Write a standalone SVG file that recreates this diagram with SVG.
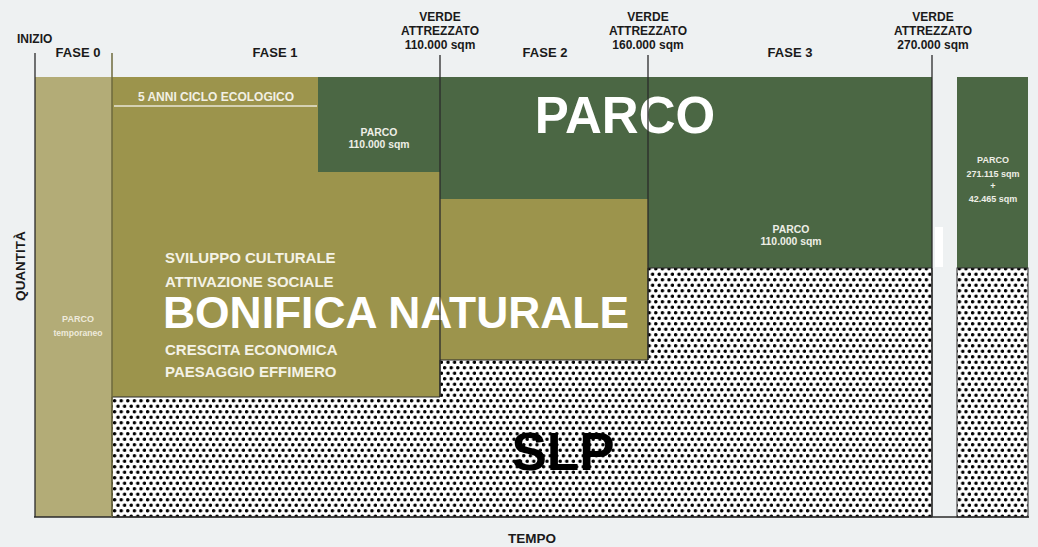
<svg xmlns="http://www.w3.org/2000/svg" width="1038" height="547" viewBox="0 0 1038 547">
<defs>
<pattern id="dots" width="6.6" height="11" patternUnits="userSpaceOnUse" x="113" y="398">
<rect width="6.6" height="11" fill="#ffffff"/>
<circle cx="1.65" cy="2.75" r="1.75" fill="#000"/>
<circle cx="4.95" cy="8.25" r="1.75" fill="#000"/>
</pattern>
<style>
text{font-family:"Liberation Sans",Arial,sans-serif;font-weight:bold}
.hd{font-size:12px;fill:#1a1a1a;text-anchor:middle}
.ph{font-size:13px;fill:#1a1a1a;text-anchor:middle}
.sm{font-size:10.4px;fill:#eeeee6;text-anchor:middle}
.sr{font-size:9px;fill:#eeeee6;text-anchor:middle}
.lbl{font-size:15px;fill:#f4f2e6}
.tick{stroke:#2a2a2a;stroke-width:1.3;fill:none}
</style>
</defs>
<rect width="1038" height="547" fill="#eef1f2"/>

<g id="fase0">
<rect x="35" y="77" width="77" height="440" fill="#b3ac77"/>
<text x="78" y="322" style="font-size:9px;fill:#eeeadb;text-anchor:middle">PARCO</text>
<text x="78" y="336" style="font-size:8.6px;fill:#eeeadb;text-anchor:middle">temporaneo</text>
</g>

<g id="bonifica">
<path d="M112 77H318V172H440V199H648V360H440V397H112Z" fill="#9c944c"/>
<line x1="114" y1="106" x2="317" y2="106" stroke="#e8e6d6" stroke-width="1.3"/>
<text x="216" y="101" style="font-size:12px;fill:#f2f0e4;text-anchor:middle">5 ANNI CICLO ECOLOGICO</text>
<text class="lbl" x="165" y="263">SVILUPPO CULTURALE</text>
<text class="lbl" x="165" y="287">ATTIVAZIONE SOCIALE</text>
<text x="163" y="328" style="font-size:44.4px;fill:#ffffff">BONIFICA NATURALE</text>
<text class="lbl" x="165" y="355">CRESCITA ECONOMICA</text>
<text class="lbl" x="165" y="377">PAESAGGIO EFFIMERO</text>
</g>

<g id="parco">
<path d="M318 77H932V268H648V199H440V172H318Z" fill="#4b6744"/>
<rect x="957" y="77" width="71" height="191" fill="#4b6744"/>
<text x="625" y="133" style="font-size:51px;fill:#ffffff;text-anchor:middle">PARCO</text>
<text class="sm" x="379" y="136">PARCO</text>
<text class="sm" x="379" y="148">110.000 sqm</text>
<text class="sm" x="791" y="233">PARCO</text>
<text class="sm" x="791" y="245">110.000 sqm</text>
<text class="sr" x="993" y="163">PARCO</text>
<text class="sr" x="993" y="177">271.115 sqm</text>
<text class="sr" x="993" y="189">+</text>
<text class="sr" x="993" y="202">42.465 sqm</text>
</g>

<rect x="935" y="227" width="8" height="40" fill="#ffffff"/>

<g id="slp">
<path d="M112 397H440V360H648V268H932V517H112Z" fill="url(#dots)" stroke="#2a2a2a" stroke-width="1"/>
<rect x="957" y="268" width="71" height="249" fill="url(#dots)" stroke="#2a2a2a" stroke-width="1"/>
<text x="563" y="470" style="font-size:53px;fill:#000;text-anchor:middle">SLP</text>
</g>

<g id="connectors">
<line class="tick" x1="35" y1="53" x2="35" y2="517"/>
<line class="tick" x1="34" y1="517" x2="1029" y2="517"/>
<line x1="112" y1="53" x2="112" y2="517" stroke="#6e6a3c" stroke-width="1.5"/>
<line class="tick" x1="440" y1="55" x2="440" y2="397"/>
<line class="tick" x1="648" y1="55" x2="648" y2="360"/>
<line class="tick" x1="932" y1="55" x2="932" y2="517"/>
</g>

<g id="labels">
<text x="17" y="43" style="font-size:12px;fill:#1a1a1a">INIZIO</text>
<text class="ph" x="78" y="57">FASE 0</text>
<text class="ph" x="275" y="57">FASE 1</text>
<text class="ph" x="545" y="57">FASE 2</text>
<text class="ph" x="790" y="57">FASE 3</text>
<text class="hd" x="440" y="21">VERDE</text>
<text class="hd" x="440" y="35">ATTREZZATO</text>
<text class="hd" x="440" y="49">110.000 sqm</text>
<text class="hd" x="648" y="21">VERDE</text>
<text class="hd" x="648" y="35">ATTREZZATO</text>
<text class="hd" x="648" y="49">160.000 sqm</text>
<text class="hd" x="933" y="21">VERDE</text>
<text class="hd" x="933" y="35">ATTREZZATO</text>
<text class="hd" x="933" y="49">270.000 sqm</text>
<text class="ph" x="532" y="543" style="font-size:13.5px">TEMPO</text>
<text class="ph" transform="translate(25,266) rotate(-90)" style="font-size:13.5px">QUANTITÀ</text>
</g>
</svg>
